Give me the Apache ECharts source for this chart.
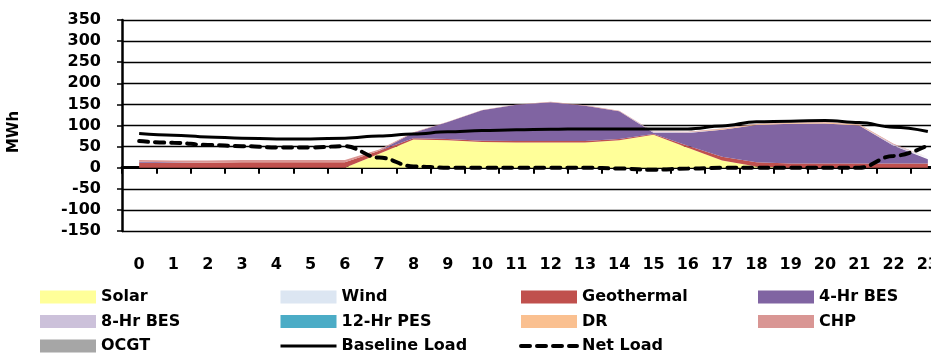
<!DOCTYPE html>
<html>
<head>
<meta charset="utf-8">
<title>MWh by hour</title>
<script src="https://cdn.jsdelivr.net/npm/echarts@6.0.0/dist/echarts.min.js"></script>
<style>
  html, body { margin: 0; padding: 0; background: #fff; }
  #chart { width: 931px; height: 356px; }
</style>
</head>
<body>
<div id="chart"></div>
<script>
// hours on the x axis
const hours = ["0", "1", "2", "3", "4", "5", "6", "7", "8", "9", "10", "11", "12", "13", "14", "15", "16", "17", "18", "19", "20", "21", "22", "23"];
const yTicks = [-150, 350, 50]; // min, max, step

// stacked supply (MWh)
const solar      = [0, 0, 0, 0, 0, 0, 0, 33, 67, 65, 61, 60, 60, 60, 65, 78, 47, 17, 3, 0, 0, 0, 0, 0];
const wind       = [0, 0, 0, 0, 0, 0, 0, 0, 0, 0, 0, 0, 0, 0, 0, 0, 0, 0, 0, 0, 0, 0, 0, 0];
const geothermal = [12, 12, 12, 13, 13, 13, 13, 7, 3, 3, 3, 3, 3, 3, 3, 2, 5, 9, 10, 10, 10, 10, 10, 10];
const bes4       = [2, 1, 0, 0, 0, 0, 0, 0, 13, 40, 72, 86, 92, 84, 66, 3, 30, 64, 88, 94, 95, 90, 42, 10];
const bes8       = [0, 0, 0, 0, 0, 0, 0, 0, 0, 0, 0, 0, 0, 0, 0, 2, 2, 0, 0, 0, 0, 0, 3, 3];
const pes12      = [0, 0, 0, 0, 0, 0, 0, 0, 0, 0, 0, 0, 0, 0, 0, 0, 0, 0, 0, 0, 0, 0, 0, 0];
const dr         = [0, 0, 0, 0, 0, 0, 0, 0, 0, 0, 0, 0, 0, 0, 0, 0, 0, 2, 2, 2, 2, 2, 0, 0];
const chp        = [4, 4, 5, 5, 5, 5, 5, 3, 1, 1, 1, 1, 1, 1, 1, 1, 1, 1, 1, 1, 1, 1, 2, 2];
const ocgt       = [0, 0, 0, 0, 0, 0, 0, 0, 0, 0, 0, 0, 0, 0, 0, 0, 0, 0, 0, 0, 0, 0, 0, 0];

// load lines
const baselineLoad = [81, 77, 73, 70, 68, 68, 70, 75, 80, 85, 88, 90, 91, 92, 92, 92, 92, 99, 109, 110, 112, 107, 96, 86];
const netLoad      = [63, 59, 54, 51, 48, 48, 51, 24, 3, 0, 0, 0, 0, 0, -2, -5, -2, 0, 0, 0, 0, 0, 28, 53];

const areas = [
  ["Solar", solar, "#FFFF99"],
  ["Wind", wind, "#DCE6F2"],
  ["Geothermal", geothermal, "#C0504D"],
  ["4-Hr BES", bes4, "#8064A2"],
  ["8-Hr BES", bes8, "#CCC1DA"],
  ["12-Hr PES", pes12, "#4BACC6"],
  ["DR", dr, "#FAC090"],
  ["CHP", chp, "#D99694"],
  ["OCGT", ocgt, "#A6A6A6"]
];

const font = "DejaVu Sans";

var series = areas.map(([name, values, color]) => ({
  name: name,
  type: "line",
  stack: "supply",
  data: values,
  symbol: "none",
  color: color,
  lineStyle: { width: 0 },
  areaStyle: { color: color, opacity: 1 },
  z: 2
}));

series.push({
  name: "Baseline Load",
  type: "line",
  data: baselineLoad,
  symbol: "none",
  smooth: 0.4,
  smoothMonotone: "x",
  color: "#000",
  lineStyle: { color: "#000", width: 3 },
  z: 4
});
series.push({
  name: "Net Load",
  type: "line",
  data: netLoad,
  symbol: "none",
  smooth: 0.4,
  smoothMonotone: "x",
  color: "#000",
  lineStyle: { color: "#000", width: 4, type: [9, 7], cap: "round" },
  z: 4
});

// legend is laid out as four columns of up to three rows
const noMarker = { opacity: 0 };
const legendColumns = [
  [{ name: "Solar", icon: "rect" }, { name: "8-Hr BES", icon: "rect" }, { name: "OCGT", icon: "rect" }],
  [{ name: "Wind", icon: "rect" }, { name: "12-Hr PES", icon: "rect" }, { name: "Baseline Load", itemStyle: noMarker, lineStyle: { width: 3 } }],
  [{ name: "Geothermal", icon: "rect" }, { name: "DR", icon: "rect" }, { name: "Net Load", itemStyle: noMarker, lineStyle: { width: 4 } }],
  [{ name: "4-Hr BES", icon: "rect" }, { name: "CHP", icon: "rect" }]
];
const legendLeft = [40, 279, 519, 758];

var legends = legendColumns.map((items, i) => ({
  orient: "vertical",
  left: legendLeft[i],
  top: 288,
  padding: 0,
  itemWidth: 56,
  itemHeight: 13,
  itemGap: 6.5,
  selectedMode: false,
  data: items,
  textStyle: { fontFamily: font, fontWeight: "bold", fontSize: 16, lineHeight: 18, color: "#000" }
}));

var myChart = echarts.init(document.getElementById("chart"));
myChart.setOption({
  animation: false,
  backgroundColor: "#fff",
  // plot runs past the right edge like the original
  grid: { left: 122, top: 20, width: 823, bottom: 125, outerBoundsMode: "none", containLabel: false },
  legend: legends,
  xAxis: {
    type: "category",
    data: hours,
    boundaryGap: true,
    axisLine: { onZero: true, lineStyle: { color: "#000", width: 3 } },
    axisTick: { show: true, length: 6, lineStyle: { color: "#000", width: 2 } },
    axisLabel: { margin: 26, color: "#000", fontFamily: font, fontWeight: "bold", fontSize: 16, interval: 0 },
    splitLine: { show: false }
  },
  yAxis: {
    type: "value",
    min: yTicks[0],
    max: yTicks[1],
    interval: yTicks[2],
    axisLine: { show: true, lineStyle: { color: "#000", width: 2.5 } },
    axisTick: { show: true, length: 5, lineStyle: { color: "#000", width: 1.5 } },
    axisLabel: { margin: 21, color: "#000", fontFamily: font, fontWeight: "bold", fontSize: 16 },
    splitLine: { show: true, lineStyle: { color: "#000", width: 1.3 } }
  },
  graphic: [{
    type: "text",
    x: 14,
    y: 132,
    rotation: Math.PI / 2,
    style: {
      text: "MWh",
      fill: "#000",
      font: "bold 15px 'DejaVu Sans'",
      align: "center",
      verticalAlign: "middle"
    }
  }],
  series: series
});

window.addEventListener("resize", () => {
  myChart.resize();
});
</script>
</body>
</html>
